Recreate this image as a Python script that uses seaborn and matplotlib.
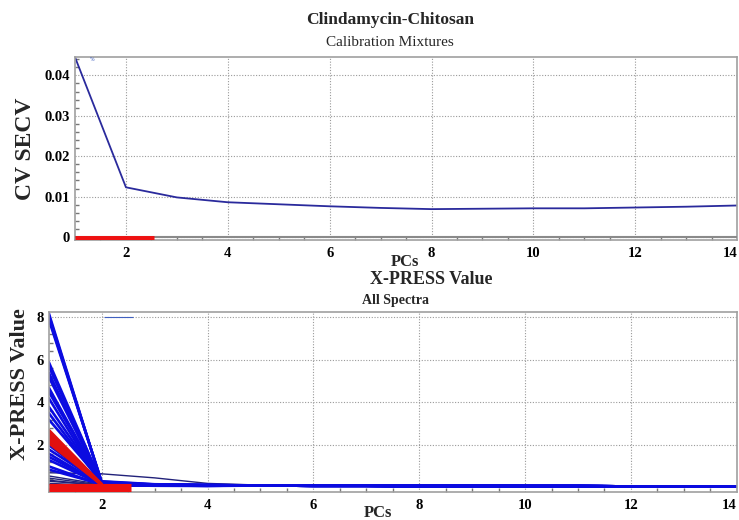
import numpy as np
import pandas as pd
import seaborn as sns
import matplotlib.pyplot as plt
from matplotlib.ticker import MultipleLocator

# ---------------- data ----------------
pcs = list(range(1, 15))
cv_secv = [0.0445, 0.0123, 0.0098, 0.0086, 0.0081, 0.0076, 0.0072, 0.0069,
           0.0070, 0.0071, 0.0071, 0.0073, 0.0075, 0.0078]

# X-PRESS per spectrum: values at PC1, PC2, PC3, PC4 (later PCs listed separately)
spec_group = (["blue"] * 14 + ["red"] * 7 + ["blue"] * 8 + ["navy"] * 7)
xp_pc1 = [8.2, 8.1, 8.0, 7.9, 5.9, 5.7, 5.4, 5.2, 4.7, 4.5, 4.2, 3.8, 3.5, 3.2,
          2.7, 2.6, 2.5, 2.4, 2.3, 2.2, 2.1,
          2.25, 2.0, 1.8, 1.6, 1.45, 1.3, 1.0, 0.85,
          0.7, 0.55, 0.45, 0.35, 0.3, 0.2, 0.15]
xp_pc2 = [0.20, 0.22, 0.25, 0.28, 0.20, 0.22, 0.18, 0.25, 0.20, 0.24, 0.18, 0.22, 0.20, 0.30,
          0.15, 0.14, 0.16, 0.13, 0.12, 0.15, 0.14,
          0.18, 0.16, 0.20, 0.14, 0.18, 0.15, 0.12, 0.16,
          0.65, 0.15, 0.12, 0.10, 0.12, 0.10, 0.08]
xp_pc3 = [0.12, 0.13, 0.14, 0.15, 0.12, 0.13, 0.12, 0.14, 0.12, 0.13, 0.12, 0.13, 0.12, 0.16,
          0.10, 0.10, 0.11, 0.10, 0.09, 0.10, 0.10,
          0.12, 0.11, 0.12, 0.10, 0.11, 0.10, 0.09, 0.10,
          0.46, 0.11, 0.10, 0.09, 0.10, 0.09, 0.07]
xp_pc4 = [0.11, 0.11, 0.12, 0.12, 0.10, 0.11, 0.10, 0.12, 0.10, 0.11, 0.10, 0.11, 0.10, 0.13,
          0.09, 0.09, 0.10, 0.09, 0.08, 0.09, 0.09,
          0.10, 0.10, 0.11, 0.09, 0.10, 0.09, 0.08, 0.09,
          0.20, 0.10, 0.09, 0.08, 0.09, 0.08, 0.06]
# later PCs (5..14): typical level of each spectrum group
xp_tail_blue = [0.10, 0.09, 0.09, 0.08, 0.08, 0.07, 0.07, 0.06, 0.06, 0.05]
xp_tail_red = [0.10, 0.09, 0.09, 0.08, 0.08, 0.07, 0.07, 0.06, 0.06, 0.05]
xp_tail_navy = [0.12, 0.11, 0.10, 0.09, 0.08, 0.08, 0.07, 0.07, 0.06, 0.06]

selected_range = [1.0, 2.55]
x_ticks = [2, 4, 6, 8, 10, 12, 14]

# ---------------- build long table ----------------
tails = {"blue": xp_tail_blue, "red": xp_tail_red, "navy": xp_tail_navy}
rows = []
for i, g in enumerate(spec_group):
    vals = [xp_pc1[i], xp_pc2[i], xp_pc3[i], xp_pc4[i]] + tails[g]
    for pc, v in zip(pcs, vals):
        rows.append({"spectrum": i, "group": g, "PC": pc, "value": v})
df_x = pd.DataFrame(rows)
df_cv = pd.DataFrame({"PC": pcs, "cv": cv_secv})

# ---------------- style ----------------
sns.set_theme(style="white")
plt.rcParams["font.family"] = ["Liberation Serif", "DejaVu Serif"]

fig = plt.figure(figsize=(7.39, 5.2), dpi=100)
ax1 = fig.add_axes([0.1015, 0.538, 0.896, 0.352])
ax2 = fig.add_axes([0.066, 0.054, 0.931, 0.346])

grid_kw = dict(color="#9a9a9a", linestyle=(0, (1, 1.5)), linewidth=0.8)

def style_axes(ax):
    for s in ax.spines.values():
        s.set_color("#a0a0a0")
        s.set_linewidth(1.2)
    ax.grid(True, **grid_kw)
    ax.set_xticks(x_ticks)
    ax.set_xticklabels([str(t) for t in x_ticks])
    ax.xaxis.set_minor_locator(MultipleLocator(0.5))
    ax.tick_params(axis="both", which="major", direction="in", length=0,
                   labelsize=10.5, colors="black")
    ax.tick_params(axis="x", pad=5)
    ax.tick_params(axis="both", which="minor", direction="in", length=3,
                   color="#777777", bottom=True, left=True)
    for lab in ax.get_xticklabels() + ax.get_yticklabels():
        lab.set_fontweight("bold")
    # keep the last x label inside the figure
    ax.get_xticklabels()[-1].set_horizontalalignment("right")

# ---------------- top panel ----------------
sns.lineplot(data=df_cv, x="PC", y="cv", ax=ax1, color="#2a2a9c", linewidth=1.3)
ax1.set_xlim(1, 14)
ax1.set_ylim(-0.0008, 0.0445)
ax1.set_yticks([0, 0.01, 0.02, 0.03, 0.04])
ax1.set_yticklabels(["0", "0.01", "0.02", "0.03", "0.04"])
ax1.yaxis.set_minor_locator(MultipleLocator(0.002))
style_axes(ax1)
ax1.axhline(0, color="#8a8a8a", linewidth=1.5, zorder=3)
ax1.hlines(-0.0005, selected_range[0], selected_range[1], color="#ee1111",
           linewidth=5, zorder=4)
ax1.set_xlabel("")
ax1.set_ylabel("CV SECV", fontsize=17, fontweight="bold", labelpad=6)
ax1.text(1.3, 0.0435, "%", fontsize=4, color="#4060c0")

# ---------------- bottom panel ----------------
pal = {"blue": "#0b0be0", "red": "#e01010", "navy": "#22227a"}
sizes_head = {"navy": 1.0, "blue": 1.9, "red": 2.2}
sizes_tail = {"navy": 1.0, "blue": 1.9, "red": 1.2}
# tail part (PC >= 2): red underneath, blue on top
sns.lineplot(data=df_x[df_x["PC"] >= 2], x="PC", y="value", units="spectrum",
             estimator=None, hue="group", hue_order=["red", "navy", "blue"],
             palette=pal, size="group", sizes=sizes_tail, ax=ax2, legend=False)
# head part (PC 1-2): red on top, as in the reference
sns.lineplot(data=df_x[df_x["PC"] <= 2], x="PC", y="value", units="spectrum",
             estimator=None, hue="group", hue_order=["navy", "blue", "red"],
             palette=pal, size="group", sizes=sizes_head, ax=ax2, legend=False)
ax2.set_xlim(1, 14)
ax2.set_ylim(-0.2, 8.25)
ax2.set_yticks([2, 4, 6, 8])
ax2.set_yticklabels(["2", "4", "6", "8"])
ax2.yaxis.set_minor_locator(MultipleLocator(0.4))
style_axes(ax2)
ax2.hlines(-0.05, selected_range[0], selected_range[1], color="#ee1111",
           linewidth=8, zorder=4)
ax2.set_xlabel("")
ax2.set_ylabel("X-PRESS Value", fontsize=16, fontweight="bold")
ax2.yaxis.set_label_coords(-0.027, 0.6)
ax2.hlines(8.0, 2.05, 2.6, color="#4060c0", linewidth=0.8)

# ---------------- texts ----------------
fig.text(0.528, 0.962, "Clindamycin-Chitosan", ha="center", va="center",
         fontsize=12.5, fontweight="bold")
fig.text(0.528, 0.919, "Calibration Mixtures", ha="center", va="center",
         fontsize=11)
fig.text(0.548, 0.496, "PCs", ha="center", va="center", fontsize=12,
         fontweight="bold")
fig.text(0.583, 0.463, "X-PRESS Value", ha="center", va="center",
         fontsize=13, fontweight="bold")
fig.text(0.535, 0.423, "All Spectra", ha="center", va="center",
         fontsize=10, fontweight="bold")
fig.text(0.512, 0.013, "PCs", ha="center", va="center", fontsize=12,
         fontweight="bold")

fig.savefig("out.png", dpi=100, facecolor="white")
